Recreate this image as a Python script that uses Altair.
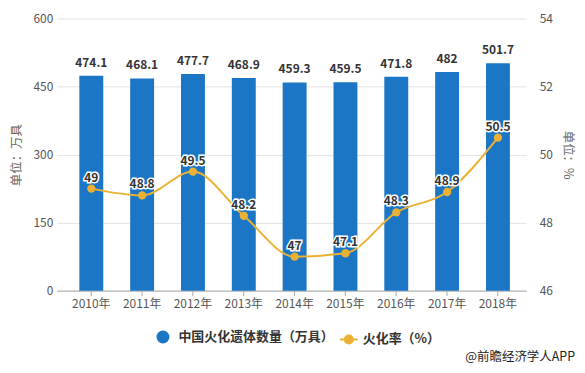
import altair as alt
import pandas as pd

years = ["2010年", "2011年", "2012年", "2013年", "2014年", "2015年", "2016年", "2017年", "2018年"]
counts = [474.1, 468.1, 477.7, 468.9, 459.3, 459.5, 471.8, 482, 501.7]
rates = [49, 48.8, 49.5, 48.2, 47, 47.1, 48.3, 48.9, 50.5]
bar_name = "中国火化遗体数量（万具）"
line_name = "火化率（%）"

BLUE = "#1B76C5"
GOLD = "#EBB134"
FONT = "Noto Sans CJK SC"

df = pd.DataFrame({
    "year": years,
    "count": counts,
    "rate": rates,
    "count_lbl": [f"{v:g}" for v in counts],
    "rate_lbl": [f"{v:g}" for v in rates],
    "s1": bar_name,
    "s2": line_name,
})

x = alt.X("year:N", sort=years, title=None,
          scale=alt.Scale(paddingInner=0.53, paddingOuter=0.382, align=0.58),
          axis=alt.Axis(labelAngle=0, labelFont=FONT, labelFontSize=12, labelColor="#555",
                        domainColor="#AAAAAA", tickColor="#AAAAAA", tickSize=5, labelPadding=3,
                        grid=False))

y_left = alt.Y("count:Q", title="单位：万具",
               scale=alt.Scale(domain=[0, 600], nice=False),
               axis=alt.Axis(values=[0, 150, 300, 450, 600], domain=False, ticks=False,
                             labelPadding=4, labelFont=FONT, labelFontSize=12, labelColor="#555",
                             grid=True, gridColor="#E3E3E3", titleFont=FONT, titleFontSize=12.5,
                             titleFontWeight="normal", titleColor="#666",
                             titleX=-40, titleY=136.5, titleAngle=-90,
                             titleAlign="center", titleBaseline="middle"))

y_right = alt.Y("rate:Q", title="单位：%",
                scale=alt.Scale(domain=[46, 54], nice=False),
                axis=alt.Axis(orient="right", values=[46, 48, 50, 52, 54], domain=False, ticks=False,
                              grid=False, labelPadding=13, labelFont=FONT, labelFontSize=12,
                              labelColor="#555", titleFont=FONT, titleFontSize=12.5,
                              titleFontWeight="normal", titleColor="#666",
                              titleX=41, titleY=136.5, titleAngle=90,
                              titleAlign="center", titleBaseline="middle"))

base = alt.Chart(df)

bars = base.mark_bar(size=24).encode(
    x=x,
    y=y_left,
    color=alt.Color("s1:N", scale=alt.Scale(domain=[bar_name], range=[BLUE]),
                    legend=alt.Legend(title=None, orient="none", legendX=99, legendY=312,
                                      symbolType="circle", symbolSize=169,
                                      labelFont=FONT, labelFontSize=13, labelFontWeight="bold",
                                      labelColor="#333", labelOffset=8)),
)

bar_labels = base.mark_text(baseline="alphabetic", dy=-9, font=FONT, fontSize=12,
                            fontWeight="bold", color="#333").encode(
    x=x, y=y_left,
    text="count_lbl:N",
)

left_layer = alt.layer(bars, bar_labels)

line = base.mark_line(color=GOLD, strokeWidth=2, interpolate="monotone").encode(
    x=x, y=y_right,
)

pts = base.mark_circle(size=70, opacity=1).encode(
    x=x,
    y=y_right,
    fill=alt.Fill("s2:N", scale=alt.Scale(domain=[line_name], range=[GOLD]),
                  legend=alt.Legend(title=None, orient="none", legendX=283, legendY=312,
                                    symbolType="M-1,0L-0.45,0M0.45,0L1,0M0.45,0A0.45,0.45,0,1,1,-0.45,0A0.45,0.45,0,1,1,0.45,0Z",
                                    symbolSize=324, symbolStrokeColor=GOLD, symbolStrokeWidth=2,
                                    symbolFillColor=GOLD,
                                    labelFont=FONT, labelFontSize=13, labelFontWeight="bold",
                                    labelColor="#333", labelOffset=4)),
)

rate_halo = base.mark_text(baseline="alphabetic", dy=-7, font=FONT, fontSize=12,
                           fontWeight="bold", stroke="white", strokeWidth=3,
                           color="white").encode(
    x=x, y=y_right,
    text="rate_lbl:N",
)
rate_text = base.mark_text(baseline="alphabetic", dy=-7, font=FONT, fontSize=12,
                           fontWeight="bold", color="#333").encode(
    x=x, y=y_right,
    text="rate_lbl:N",
)

right_layer = alt.layer(line, pts, rate_halo, rate_text)

credit = alt.Chart(pd.DataFrame({"t": ["@前瞻经济学人APP"]})).mark_text(
    align="right", baseline="middle", font=FONT, fontSize=12.5, color="#222"
).encode(x=alt.value(520), y=alt.value(340), text="t:N")

chart = alt.layer(left_layer, right_layer, credit).resolve_scale(
    y="independent"
).properties(
    width=471, height=273,
    autosize=alt.AutoSizeParams(type="none"),
    padding={"left": 49, "top": 10, "right": 51, "bottom": 74},
    background="white",
).configure_view(stroke=None)

chart.save("out.html", embed_options={"renderer": "svg", "actions": False})
